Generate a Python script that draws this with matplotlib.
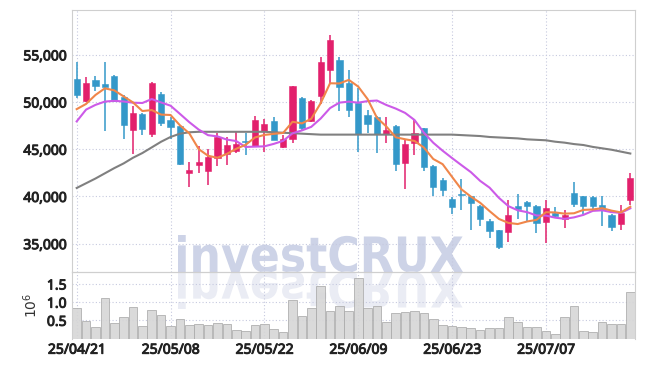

# candle chart with moving averages and volume panel

import numpy as np
import pandas as pd
import matplotlib
matplotlib.use('Agg')
import matplotlib.pyplot as plt
import matplotlib.patheffects as pe
from matplotlib.textpath import TextPath
from matplotlib.patches import PathPatch
from matplotlib.font_manager import FontProperties
from matplotlib.transforms import Affine2D, IdentityTransform

# ── DATA ────────────────────────────────────────────────────
dates = ['25/04/21', '25/04/22', '25/04/23', '25/04/24', '25/04/25',
         '25/04/28', '25/04/29', '25/04/30', '25/05/02', '25/05/07',
         '25/05/08', '25/05/09', '25/05/12', '25/05/13', '25/05/14',
         '25/05/15', '25/05/16', '25/05/19', '25/05/20', '25/05/21',
         '25/05/22', '25/05/23', '25/05/26', '25/05/27', '25/05/28',
         '25/05/29', '25/05/30', '25/06/02', '25/06/04', '25/06/05',
         '25/06/09', '25/06/10', '25/06/11', '25/06/12', '25/06/13',
         '25/06/16', '25/06/17', '25/06/18', '25/06/19', '25/06/20',
         '25/06/23', '25/06/24', '25/06/25', '25/06/26', '25/06/27',
         '25/06/30', '25/07/01', '25/07/02', '25/07/03', '25/07/04',
         '25/07/07', '25/07/08', '25/07/09', '25/07/10', '25/07/11',
         '25/07/14', '25/07/15', '25/07/16', '25/07/17', '25/07/18']

opens = [52450, 50150, 52350, 51950, 52800, 50500, 47000, 48750, 46650, 50850,
         48050, 47500, 42450, 43350, 42650, 44050, 44450, 44850, 45900, 45350,
         46950, 48000, 45250, 46050, 50400, 47950, 50600, 53400, 54450, 52000,
         49950, 48650, 48450, 46650, 47500, 43550, 45650, 47250, 43250, 41700,
         39750, 40200, 40000, 39000, 37400, 36450, 36250, 39000, 39450, 39000,
         37300, 38250, 37650, 40400, 40050, 39900, 39100, 38050, 37100, 39650]
closes = [50800, 52050, 51650, 51550, 50150, 47600, 48850, 47100, 52050, 47750,
          47400, 43400, 42850, 43700, 44200, 46350, 45450, 45550, 45800, 48100,
          47700, 46000, 46050, 51700, 47250, 50150, 54250, 56600, 51600, 49150,
          46600, 47650, 46650, 47000, 43450, 45550, 46750, 43150, 40950, 40700,
          38850, 40150, 39300, 37650, 36300, 34700, 38050, 38700, 39000, 37150,
          38750, 37950, 38050, 39200, 38950, 38950, 38650, 36750, 38250, 41950]
highs = [54200, 52650, 52800, 54250, 52900, 50700, 49550, 48850, 52100, 51100,
         48450, 47600, 43600, 45300, 45000, 46750, 46350, 46900, 46700, 48550,
         48250, 48450, 46550, 51750, 50500, 50200, 54800, 57050, 54750, 53400,
         51450, 49200, 48550, 48400, 47600, 46000, 48100, 47300, 43300, 41950,
         39900, 41850, 40050, 39050, 37600, 36500, 39650, 40250, 39550, 39050,
         39650, 38850, 38600, 41500, 40100, 40100, 40000, 38150, 39100, 42450]
lows = [50400, 50050, 51200, 46950, 50050, 46100, 44450, 46550, 46350, 47450,
        46100, 43300, 41050, 42450, 41250, 43200, 43350, 44650, 44400, 45300,
        44750, 45950, 45100, 45650, 47050, 47900, 49800, 52000, 49000, 48400,
        44750, 46700, 44600, 45700, 42750, 40800, 44400, 42650, 40000, 40000,
        38150, 38600, 36450, 36900, 35600, 34450, 35150, 37650, 37350, 36100,
        35050, 37700, 36650, 38850, 38150, 38600, 36900, 36300, 36450, 39100]

# volume in millions of shares
volume = [0.84, 0.48, 0.32, 1.11, 0.43, 0.59, 0.87, 0.34, 0.78, 0.65,
          0.34, 0.53, 0.37, 0.40, 0.37, 0.43, 0.40, 0.23, 0.21, 0.37,
          0.40, 0.26, 0.18, 1.06, 0.62, 0.84, 1.44, 0.75, 0.89, 0.75,
          1.66, 0.84, 0.89, 0.45, 0.70, 0.73, 0.76, 0.69, 0.55, 0.37,
          0.34, 0.32, 0.29, 0.23, 0.28, 0.28, 0.59, 0.45, 0.32, 0.32,
          0.22, 0.12, 0.59, 0.89, 0.21, 0.17, 0.45, 0.40, 0.40, 1.28]

# moving averages before the window need older closes, so the first
# values are read off the chart
ma5_lead = [49250, 49800, 50750, 51450]
ma10_lead = [47950, 49200, 49700, 50050, 50130, 50060, 49930, 49900, 50320]
# 60-day average
ma60 = [40900, 41400, 41900, 42450, 43000, 43500, 44100, 44600, 45200, 45800,
        46300, 46650, 46800, 46850, 46850, 46850, 46850, 46850, 46850, 46850,
        46850, 46800, 46750, 46700, 46650, 46600, 46550, 46550, 46550, 46550,
        46550, 46550, 46550, 46550, 46550, 46550, 46550, 46550, 46550, 46550,
        46550, 46500, 46450, 46400, 46300, 46250, 46200, 46150, 46050, 46000,
        45950, 45800, 45700, 45550, 45450, 45250, 45100, 44950, 44750, 44550]

price_ticks = [35000, 40000, 45000, 50000, 55000]
vol_ticks = [0.5, 1.0, 1.5]

# ── COLOURS ─────────────────────────────────────────────────
UP = '#e2206c'
DOWN = '#3498c9'
GRID = '#c6c9df'
SPINE = '#cfcfcf'
TXT = '#222222'

close_s = pd.Series(closes, dtype=float)
ma5 = close_s.rolling(5).mean().to_numpy()
ma5[:4] = ma5_lead
ma10 = close_s.rolling(10).mean().to_numpy()
ma10[:9] = ma10_lead

x = np.arange(len(dates))

plt.rcParams['font.family'] = ['Noto Sans', 'DejaVu Sans']

fig = plt.figure(figsize=(6.45, 3.66), dpi=100)
ax = fig.add_axes([72/645, 94/366, 563/645, 262/366])
axv = fig.add_axes([72/645, 27.5/366, 563/645, 66.5/366], sharex=ax)
for a in (ax, axv):
    a.set_facecolor('none')

# ── WATERMARK (with mirrored reflection) ────────────────────
fp = FontProperties(family='DejaVu Sans', weight='bold')
tp = TextPath((0, 0), 'investCRUX', size=50, prop=fp)
ext = tp.get_extents()
sx = 285 / ext.width
sy = 37 / ext.y1
for flip, col in ((1, '#cdd3e7'), (-1, '#eaecf4')):
    tr = Affine2D().translate(-ext.x0, 0).scale(sx, sy * flip).translate(178, 94)
    patch = PathPatch(tr.transform_path(tp), facecolor=col, edgecolor='none',
                      transform=IdentityTransform(), zorder=-5)
    fig.add_artist(patch)

# ── CANDLES ─────────────────────────────────────────────────
for i in x:
    o, c = opens[i], closes[i]
    col = UP if c >= o else DOWN
    ax.vlines(i, lows[i], highs[i], color=col, lw=1.1, zorder=2)
    ax.bar(i, max(abs(c - o), 60), bottom=min(o, c), width=0.66,
           color=col, edgecolor=col, lw=0.4, zorder=2)

ax.plot(x, ma60, color='#808080', lw=1.5, zorder=3)
ax.plot(x, ma10, color='#cc5ae8', lw=1.5, zorder=3)
ax.plot(x, ma5, color='#f0864a', lw=1.5, zorder=3)

ax.set_xlim(-0.5, len(dates) - 0.5)
ax.set_ylim(32000, 59750)
ax.set_yticks(price_ticks)
ax.set_yticklabels([f'{v:,}' for v in price_ticks])
ax.tick_params(axis='y', length=0, pad=4, labelsize=10, labelcolor=TXT)
ax.tick_params(axis='x', length=0, labelbottom=False)
ax.grid(True, color=GRID, linestyle=(0, (1, 2)), lw=0.8, zorder=0)
for s in ax.spines.values():
    s.set_color(SPINE)

# ── VOLUME ──────────────────────────────────────────────────
axv.bar(x, volume, width=0.92, color='#d6d6d6', edgecolor='#a9a9a9',
        lw=0.6, alpha=0.9, zorder=2)
axv.set_ylim(0, 1.83)
axv.set_yticks(vol_ticks)
axv.set_yticklabels([f'{v:.1f}' for v in vol_ticks])
axv.tick_params(axis='y', length=0, pad=4, labelsize=10, labelcolor=TXT)
axv.set_xticks(x[::10])
axv.set_xticklabels(dates[::10])
axv.tick_params(axis='x', length=0, pad=3, labelsize=10, labelcolor=TXT)
axv.grid(True, color=GRID, linestyle=(0, (1, 2)), lw=0.8, zorder=0)
axv.set_ylabel(r'$10^6$', fontsize=10, color='#333333', labelpad=5,
               family='DejaVu Sans')
for s in axv.spines.values():
    s.set_color(SPINE)
axv.spines['bottom'].set_visible(False)

# thicken the tick labels a little
bold = [pe.withStroke(linewidth=0.7, foreground=TXT)]
for t in ax.get_yticklabels() + axv.get_yticklabels() + axv.get_xticklabels():
    t.set_path_effects(bold)

fig.savefig('out.png', dpi=100)
